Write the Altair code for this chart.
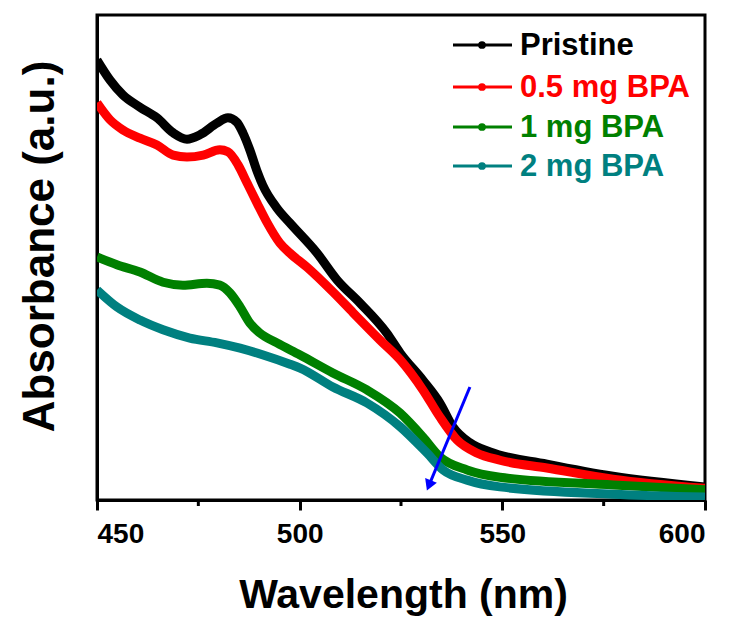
import altair as alt
import pandas as pd

# UV-vis absorbance spectra (arbitrary units)
series_names = ["Pristine", "0.5 mg BPA", "1 mg BPA", "2 mg BPA"]
series_colors = ["#000000", "#ff0000", "#008000", "#008080"]

pristine_wl = [450.0, 453.2, 456.4, 460.6, 464.8, 468.8, 472.2, 475.4, 479.6, 482.3,
               484.5, 486.0, 487.7, 489.4, 490.9, 494.4, 497.6, 504.3, 509.2, 514.9,
               521.5, 524.8, 530.4, 534.6, 537.8, 542.0, 547.0, 561.0, 577.3, 600.0]
pristine_abs = [0.907, 0.866, 0.835, 0.810, 0.788, 0.757, 0.744, 0.753, 0.777, 0.788,
                0.779, 0.757, 0.722, 0.680, 0.649, 0.602, 0.571, 0.509, 0.454, 0.406,
                0.344, 0.303, 0.247, 0.200, 0.151, 0.118, 0.099, 0.074, 0.049, 0.027]

bpa05_wl = [450.0, 453.2, 456.4, 460.6, 464.8, 468.8, 472.2, 476.2, 480.3, 482.3,
            484.8, 487.0, 489.5, 491.9, 495.1, 497.6, 501.8, 508.2, 513.2, 519.8,
            524.8, 530.4, 534.6, 538.8, 543.7, 549.4, 561.0, 577.3, 600.0]
bpa05_abs = [0.819, 0.784, 0.763, 0.746, 0.732, 0.711, 0.707, 0.711, 0.722, 0.718,
             0.691, 0.654, 0.612, 0.573, 0.530, 0.509, 0.480, 0.429, 0.386, 0.330,
             0.289, 0.227, 0.171, 0.124, 0.097, 0.082, 0.066, 0.043, 0.024]

bpa1_wl = [450.0, 454.9, 460.6, 466.3, 471.2, 477.1, 480.3, 482.8, 485.3, 487.7,
           490.2, 494.4, 500.1, 508.2, 516.6, 524.8, 530.4, 534.6, 541.3, 549.4,
           577.3, 600.0]
bpa1_abs = [0.501, 0.485, 0.470, 0.449, 0.443, 0.447, 0.443, 0.427, 0.398, 0.365,
            0.344, 0.324, 0.299, 0.262, 0.227, 0.179, 0.130, 0.089, 0.062, 0.047,
            0.031, 0.021]

bpa2_wl = [450.0, 454.9, 460.6, 466.3, 472.9, 479.6, 485.3, 491.0, 497.6, 500.1,
           508.2, 516.6, 524.8, 531.4, 535.4, 541.3, 549.4, 577.3, 600.0]
bpa2_abs = [0.433, 0.398, 0.371, 0.351, 0.334, 0.324, 0.313, 0.299, 0.280, 0.272,
            0.233, 0.200, 0.151, 0.097, 0.062, 0.041, 0.027, 0.012, 0.006]

x_ticks = [450, 500, 550, 600]
x_minor_ticks = [475, 525, 575]

# trend arrow (start and tip, in data units)
arrow_wl = [542.0, 531.9]
arrow_abs = [0.233, 0.030]

FONT = "Liberation Sans"
W, H = 608, 485

x_scale = alt.Scale(domain=[450, 600], nice=False, zero=False)
y_scale = alt.Scale(domain=[0, 1], nice=False, zero=False)

spectra = [
    (pristine_wl, pristine_abs),
    (bpa05_wl, bpa05_abs),
    (bpa1_wl, bpa1_abs),
    (bpa2_wl, bpa2_abs),
]

layers = []
for i, (wl, ab) in enumerate(spectra):
    df = pd.DataFrame({"wavelength": wl, "absorbance": ab})
    enc = dict(
        x=alt.X("wavelength:Q", scale=x_scale,
                axis=alt.Axis(values=x_ticks, title="Wavelength (nm)", format="d",
                              labelFont=FONT, labelFontSize=28, labelFontWeight="bold",
                              labelColor="black", labelBaseline="alphabetic",
                              labelPadding=32, tickSize=10, tickWidth=3,
                              tickColor="black", domainColor="black", domainWidth=3,
                              grid=False, titleFont=FONT, titleFontSize=41,
                              titleFontWeight="bold", titleColor="black",
                              titleX=306, titleY=107, titleBaseline="alphabetic")),
        y=alt.Y("absorbance:Q", scale=y_scale,
                axis=alt.Axis(title="Absorbance (a.u.)", labels=False, ticks=False,
                              grid=False, domainColor="black", domainWidth=3,
                              titleFont=FONT, titleFontSize=44, titleFontWeight="bold",
                              titleColor="black", titleX=-44, titleY=231,
                              titleBaseline="alphabetic")),
    )
    layers.append(
        alt.Chart(df).mark_line(color=series_colors[i], strokeWidth=9,
                                interpolate="monotone", clip=True).encode(**enc)
    )

# minor ticks on the wavelength axis
minor_df = pd.DataFrame({"wavelength": x_minor_ticks})
layers.append(
    alt.Chart(minor_df).mark_rule(color="black", strokeWidth=3).encode(
        x=alt.X("wavelength:Q", scale=x_scale),
        y=alt.value(H), y2=alt.value(H + 6),
    )
)

# arrow showing the decrease with BPA loading
arrow_df = pd.DataFrame({"wavelength": [arrow_wl[0]], "absorbance": [arrow_abs[0]],
                         "wavelength2": [arrow_wl[1]], "absorbance2": [arrow_abs[1]]})
layers.append(
    alt.Chart(arrow_df).mark_rule(color="#0000ff", strokeWidth=3).encode(
        x=alt.X("wavelength:Q", scale=x_scale),
        y=alt.Y("absorbance:Q", scale=y_scale),
        x2="wavelength2:Q", y2="absorbance2:Q",
    )
)
head_df = pd.DataFrame({"wavelength": [arrow_wl[1]], "absorbance": [arrow_abs[1]]})
layers.append(
    alt.Chart(head_df).mark_point(shape="triangle-down", filled=True, size=160,
                                  color="#0000ff", opacity=1, angle=22).encode(
        x=alt.X("wavelength:Q", scale=x_scale),
        y=alt.Y("absorbance:Q", scale=y_scale),
    )
)

# legend, drawn in the upper right corner
legend_rows = [30, 72, 112, 151]
for i, name in enumerate(series_names):
    ld = pd.DataFrame({"label": [name]})
    ry = legend_rows[i]
    layers.append(
        alt.Chart(ld).mark_rule(color=series_colors[i], strokeWidth=3).encode(
            x=alt.value(356), x2=alt.value(415), y=alt.value(ry)
        )
    )
    layers.append(
        alt.Chart(ld).mark_circle(color=series_colors[i], size=60, opacity=1).encode(
            x=alt.value(385), y=alt.value(ry)
        )
    )
    layers.append(
        alt.Chart(ld).mark_text(color=series_colors[i], font=FONT, fontSize=31,
                                fontWeight="bold", align="left",
                                baseline="alphabetic").encode(
            x=alt.value(423), y=alt.value(ry + 10), text="label:N"
        )
    )

chart = alt.layer(*layers).properties(
    width=W, height=H,
    autosize=alt.AutoSizeParams(type="none"),
    padding={"left": 97, "top": 15, "right": 31, "bottom": 125},
    background="white",
).configure_view(stroke="black", strokeWidth=3)

chart.save("out.html", embed_options={"renderer": "svg", "actions": False})
